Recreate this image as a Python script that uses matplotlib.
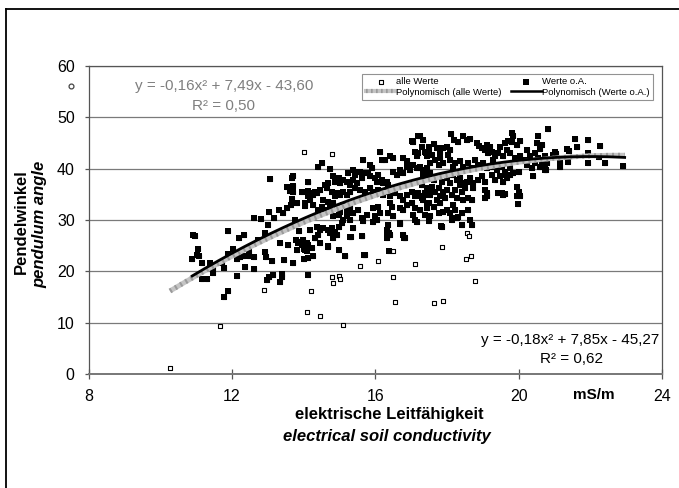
import numpy as np
import matplotlib
matplotlib.use("Agg")
import matplotlib.pyplot as plt
from matplotlib.lines import Line2D
from matplotlib.legend_handler import HandlerTuple

plt.rcParams['font.family'] = ['Liberation Sans', 'DejaVu Sans']

# ---------------- data ----------------
# filled squares: "Werte o.A." (values without outliers)
werte_oa = [
    (10.92,27.1),(10.97,26.8),(11.06,24.4),(10.89,22.4),(11.03,23.2),(11.09,22.9),(11.15,21.6),(11.39,21.6),
    (11.48,20.6),(11.46,19.6),(11.15,18.45),(11.31,18.5),(11.71,21.6),(11.78,20.6),(11.9,23.4),(11.9,27.9),
    (12.04,24.3),(12.15,22.5),(12.22,22.7),(12.3,23.0),(12.2,26.5),(12.34,27.1),(12.47,23.8),(12.48,22.9),
    (12.61,22.7),(12.36,20.8),(12.6,20.5),(12.15,19.0),(11.9,16.2),(11.79,15.0),(12.6,30.3),(12.8,30.1),
    (12.72,26.2),(12.92,27.4),(12.92,23.8),(12.95,22.7),(13.11,22.0),(13.0,29.0),(13.18,30.3),(13.03,31.6),
    (13.31,32.0),(13.41,31.4),(13.34,25.6),(13.45,22.3),(13.57,25.1),(13.71,21.6),(12.97,18.3),(13.04,18.8),
    (13.13,19.2),(13.39,19.5),(13.4,18.8),(13.34,18.0),(13.53,32.3),(13.65,33.0),(13.8,33.3),(13.66,34.0),
    (13.62,35.7),(13.71,35.5),(13.54,36.4),(13.71,36.6),(13.66,38.1),(13.71,38.5),(13.94,35.5),(14.12,35.7),
    (14.11,34.6),(14.13,37.4),(14.04,32.8),(13.76,30.0),(13.88,27.8),(13.79,26.1),(13.8,24.2),(14.01,24.4),
    (13.88,25.8),(14.02,22.4),(14.11,19.3),(13.06,37.9),(13.85,25.6),(13.94,25.15),(14.04,24.2),(14.13,22.55),
    (14.44,25.6),(14.69,24.9),(14.32,26.45),(14.69,28.1),
    (17.2,46.3),(17.01,45.3),(17.06,45.1),(17.1,43.3),(17.2,43.0),(17.15,42.5),(17.4,43.0),(17.5,43.5),
    (16.13,43.3),(16.41,42.4),(16.5,42.0),(16.18,41.7),(16.27,41.6),(16.78,42.0),(16.87,41.4),(15.66,41.7),
    (15.85,40.7),(15.9,40.1),(14.5,41.1),(14.41,40.4),(14.73,40.0),(15.38,39.8),(15.46,39.4),(15.24,39.1),
    (15.43,38.8),(15.57,39.4),(15.71,39.1),(15.62,38.1),(15.8,39.1),(15.85,38.5),(15.99,38.1),(16.08,38.8),
    (16.04,37.5),(16.18,37.8),(16.22,37.2),(16.31,37.5),(16.36,36.8),(16.5,39.4),(16.59,38.8),(16.69,39.8),
    (16.78,39.1),(16.87,40.4),(16.97,39.8),(17.06,40.7),(17.15,40.1),(17.24,40.4),(17.34,39.8),(17.43,40.1),
    (14.83,38.5),(14.97,38.1),(14.87,37.5),(15.01,37.2),(15.1,37.8),(15.2,37.5),(15.29,36.8),(15.38,37.8),
    (15.48,37.2),(14.6,36.8),(14.69,37.2),(14.64,36.2),(14.45,35.9),(14.36,35.2),(14.31,35.5),(14.27,34.9),
    (14.13,37.5),(14.08,35.5),(14.18,35.2),(14.78,35.5),(14.92,35.2),(15.01,34.9),(14.87,34.6),(15.1,35.5),
    (15.2,34.9),(15.29,35.5),(15.43,36.2),(15.57,35.9),(15.71,35.5),(15.85,36.2),(15.94,35.5),(16.08,35.9),
    (16.22,34.9),(16.31,35.5),(16.41,34.6),(16.55,35.2),(16.69,34.6),(16.78,33.9),(16.87,34.9),(17.01,35.5),
    (17.1,34.6),(17.2,35.2),(17.29,34.2),(17.38,34.9),(17.48,35.9),(14.18,33.9),(14.27,32.9),(14.04,33.3),
    (14.55,33.9),(14.69,33.6),(14.5,32.6),(14.41,32.0),(14.6,32.0),(14.73,32.6),(14.83,33.3),(14.92,32.3),
    (15.01,31.6),(15.1,32.9),(15.2,31.9),(15.29,32.6),(14.83,30.7),(14.97,31.0),(15.1,30.0),(15.06,29.4),
    (15.2,30.7),(15.29,30.0),(15.38,31.3),(15.52,32.0),(15.62,30.3),(15.76,31.0),(15.94,32.3),(16.08,32.6),
    (15.99,30.7),(16.13,31.3),(16.04,30.0),(16.41,33.3),(16.45,32.6),(16.36,31.3),(16.5,30.7),(16.69,32.3),
    (16.78,32.0),(16.87,32.9),(17.01,33.3),(17.1,32.3),(17.24,32.0),(17.38,31.0),(17.43,32.9),(14.36,28.7),
    (14.45,28.1),(14.41,27.1),(14.31,26.4),(14.55,28.4),(14.78,28.4),(14.87,27.7),(14.92,27.1),(14.83,26.4),
    (14.73,27.4),(14.97,28.7),(14.18,28.1),(14.08,25.5),(13.99,26.1),(15.38,28.4),(15.62,26.8),(15.29,26.6),
    (16.31,28.1),(16.36,29.0),(16.41,27.1),(16.33,26.4),(16.69,29.2),(16.78,27.1),(16.83,26.4),(17.06,31.0),
    (17.1,30.0),(17.15,29.7),(14.69,24.8),(14.97,24.2),(15.15,23.0),(15.71,23.2),(14.13,25.1),(14.22,24.5),
    (14.08,24.0),(14.25,22.9),(16.37,24.0),
    (15.31,26.6),(15.63,26.9),(16.31,26.9),(16.38,27.5),(16.78,27.1),(16.8,26.4),(15.15,23.06),(15.68,23.2),
    (17.85,28.7),(18.41,29.0),(18.69,29.0),(18.13,30.0),(18.27,30.3),(15.66,29.9),(15.94,29.7),(16.69,29.4),
    (18.1,46.7),(18.2,45.6),(18.29,45.1),(18.43,46.3),(18.55,45.6),(18.64,45.7),(17.99,44.3),(18.08,43.7),
    (18.03,42.7),(17.89,44.0),(17.8,43.3),(18.82,45.0),(18.9,44.4),(18.96,44.0),(19.1,44.6),(19.2,44.2),
    (19.06,43.7),(19.15,43.0),(19.24,43.3),(19.34,42.4),(19.29,41.7),(19.48,44.3),(19.62,45.0),(19.71,45.3),
    (19.8,45.1),(19.94,44.6),(20.03,45.3),(20.22,43.7),(19.8,47.0),(19.85,46.3),(19.43,43.0),(19.57,42.4),
    (19.66,43.7),(19.75,43.0),(19.89,42.0),(20.03,42.4),(20.13,41.7),(20.31,42.4),(20.45,43.0),(20.54,42.0),
    (20.54,46.4),(20.82,47.7),(20.5,45.0),(20.64,44.6),(20.59,43.8),(17.24,46.3),(17.34,45.6),(17.29,44.3),
    (17.38,43.3),(17.48,44.3),(17.62,44.9),(17.71,44.0),(17.43,42.4),(17.57,42.7),(17.66,41.7),(17.52,41.1),
    (17.8,42.0),(17.89,41.1),(17.76,40.7),(18.08,41.7),(18.22,41.1),(18.17,40.4),(18.36,41.4),(18.45,40.4),
    (18.59,41.1),(18.69,40.1),(18.78,41.7),(18.87,40.7),(19.01,41.1),(19.1,40.1),(19.24,40.4),(19.38,39.8),
    (19.52,40.4),(19.61,39.4),(19.75,40.1),(19.85,39.1),(19.99,39.4),(20.22,40.7),(20.36,40.1),(20.45,41.1),
    (20.59,40.4),(20.73,39.8),(20.78,41.1),(17.24,40.1),(17.38,39.4),(17.52,39.1),(17.34,38.5),(17.48,38.1),
    (17.62,37.8),(17.76,38.5),(17.85,37.5),(17.99,38.1),(18.08,37.2),(18.17,38.8),(18.27,37.8),(18.36,38.1),
    (18.45,37.2),(18.55,37.5),(18.64,38.1),(18.73,37.2),(18.87,37.8),(18.96,38.5),(19.06,37.5),(19.24,38.8),
    (19.34,37.8),(19.48,38.5),(19.62,38.8),(19.57,37.5),(19.66,38.1),(19.75,38.8),(20.4,38.5),(17.29,36.8),
    (17.43,36.2),(17.57,36.5),(17.38,35.2),(17.52,34.9),(17.66,35.5),(17.76,36.2),(17.89,35.5),(17.8,34.6),
    (17.94,34.2),(17.99,35.9),(18.13,34.9),(18.22,35.9),(18.36,36.8),(18.41,35.5),(18.5,36.2),(18.27,34.2),
    (18.45,33.9),(18.59,34.2),(18.69,33.9),(18.73,36.2),(19.06,35.9),(19.1,35.2),(19.06,34.2),(19.43,35.2),
    (19.57,34.9),(19.94,36.5),(19.99,35.5),(19.94,34.6),(20.03,34.7),(17.24,34.6),(17.34,33.9),(17.48,33.3),
    (17.43,32.3),(17.62,32.6),(17.71,33.9),(17.8,33.3),(17.99,32.0),(17.76,31.3),(17.89,31.6),(18.17,32.9),
    (18.22,32.0),(18.08,31.3),(18.13,30.3),(18.41,31.3),(18.59,32.0),(18.64,30.0),(17.52,30.7),(17.5,29.9),
    (17.82,28.9),(18.29,30.5),(19.97,33.1),(19.52,35.2),(19.61,35.1),(19.1,34.6),
    (21.01,43.3),(20.96,42.7),(21.04,42.9),(20.73,42.4),(20.64,41.1),(20.73,40.1),(20.76,39.8),(21.15,41.1),
    (21.15,40.4),(21.35,43.9),(21.41,43.5),(21.57,45.7),(21.63,44.3),(21.92,45.5),(21.94,43.0),(22.26,44.5),
    (22.24,42.2),(22.4,41.1),(21.94,41.2),(21.38,41.3),(22.91,40.6),
]
# hollow squares visible only in "alle Werte" (the outliers)
ausreisser = [
    (10.27,1.1),(11.66,9.4),(12.9,16.4),(14.2,16.2),(14.1,12.0),(14.45,11.3),(14.78,18.8),(14.81,17.8),
    (14.97,19.0),(15.02,18.6),(14.01,43.2),(14.8,42.8),(15.09,9.55),(15.57,21.1),(16.06,22.0),(17.1,21.4),
    (16.49,24.0),(16.48,18.97),(16.55,14.1),(17.63,13.76),(17.87,14.2),(17.85,24.7),(18.55,27.5),
    (18.62,26.95),(18.53,22.35),(18.66,23.06),(18.78,18.1),
]
# polynomial trend lines as drawn (coefficients a, b, c for a*x^2 + b*x + c)
trend_alle = [-0.1677, 7.656, -44.77]
trend_oa = [-0.189, 8.31, -48.98]
trend_alle_range = [10.27, 22.95]
trend_oa_range = [10.89, 22.95]
eq_alle = ["y = -0,16x² + 7,49x - 43,60", "R² = 0,50"]
eq_oa = ["y = -0,18x² + 7,85x - 45,27", "R² = 0,62"]
x_ticks = [8, 12, 16, 20, 24]
y_ticks = [0, 10, 20, 30, 40, 50, 60]

oa_x = [p[0] for p in werte_oa]
oa_y = [p[1] for p in werte_oa]
out_x = [p[0] for p in ausreisser]
out_y = [p[1] for p in ausreisser]
alle_x = out_x + oa_x
alle_y = out_y + oa_y

# ---------------- figure ----------------
W, H = 679, 488
fig = plt.figure(figsize=(W / 100, H / 100), dpi=100)
L, R, B, T = 88.6, 662.3, 374, 66
ax = fig.add_axes([L / W, 1 - B / H, (R - L) / W, (B - T) / H])

ax.set_xlim(8, 24)
ax.set_ylim(0, 60)
ax.set_xticks(x_ticks)
ax.set_yticks(y_ticks)
ax.yaxis.grid(True, color='#7a7a7a', lw=0.9)
ax.set_axisbelow(True)

for s in ['top', 'right', 'left']:
    ax.spines[s].set_color('#555555')
    ax.spines[s].set_linewidth(0.9)
ax.spines['bottom'].set_color('#777777')
ax.spines['bottom'].set_linewidth(1.4)

ax.tick_params(axis='x', direction='inout', length=7, width=0.9, color='#555555',
               labelsize=11.5, pad=7)
ax.tick_params(axis='y', direction='out', length=3, width=0.9, color='#555555',
               labelsize=11.5, pad=7)

h_alle = ax.scatter(alle_x, alle_y, marker='s', s=11, facecolors='white',
                    edgecolors='black', linewidths=0.8, zorder=3, label='alle Werte')
h_oa = ax.scatter(oa_x, oa_y, marker='s', s=14, color='black', linewidths=0,
                  zorder=4, label='Werte o.A.')

xa = np.linspace(trend_alle_range[0], trend_alle_range[1], 200)
ya = np.polyval(trend_alle, xa)
xo = np.linspace(trend_oa_range[0], trend_oa_range[1], 200)
yo = np.polyval(trend_oa, xo)
ax.plot(xa, ya, color='#c4c4c4', lw=3.6, zorder=5, solid_capstyle='butt')
ax.plot(xa, ya, color='#9a9a9a', lw=3.6, ls=(0, (0.4, 0.8)), zorder=5)
ax.plot(xo, yo, color='black', lw=2.0, zorder=6)

# legend
hl_alle = (Line2D([], [], color='#c4c4c4', lw=3.0),
           Line2D([], [], color='#9a9a9a', lw=3.0, ls=(0, (0.4, 0.8))))
hl_oa = Line2D([], [], color='black', lw=1.8)
leg = ax.legend([h_alle, hl_alle, h_oa, hl_oa],
                ['alle Werte', 'Polynomisch (alle Werte)', 'Werte o.A.', 'Polynomisch (Werte o.A.)'],
                handler_map={tuple: HandlerTuple(ndivide=1)},
                ncol=2, loc='upper right', bbox_to_anchor=((653 - L) / (R - L), (B - 74) / (B - T)),
                fontsize=6.8, frameon=True, fancybox=False, borderpad=0.35, labelspacing=0.15,
                handlelength=3.2, handletextpad=0.05, columnspacing=1.0, borderaxespad=0,
                markerscale=1.0)
leg.get_frame().set_edgecolor('#777777')
leg.get_frame().set_linewidth(0.8)
leg.set_zorder(10)

# equations
gx = 224
fig.text(gx / W, 1 - 86 / H, eq_alle[0], color='#7f7f7f', fontsize=11, ha='center', va='center')
fig.text(gx / W, 1 - 106 / H, eq_alle[1], color='#7f7f7f', fontsize=11, ha='center', va='center')
fig.text(659 / W, 1 - 340 / H, eq_oa[0], color='black', fontsize=11, ha='right', va='center')
fig.text(572 / W, 1 - 359 / H, eq_oa[1], color='black', fontsize=11, ha='center', va='center')

# axis titles
fig.text(21 / W, 1 - 222 / H, 'Pendelwinkel', rotation=90, fontsize=12, fontweight='bold',
         ha='center', va='center')
fig.text(40 / W, 1 - 224 / H, 'pendulum angle', rotation=90, fontsize=12, fontweight='bold',
         style='italic', ha='center', va='center')
fig.text(389 / W, 1 - 414 / H, 'elektrische Leitfähigkeit', fontsize=12, fontweight='bold',
         ha='center', va='center')
fig.text(387 / W, 1 - 437 / H, 'electrical soil conductivity', fontsize=12, fontweight='bold',
         style='italic', ha='center', va='center')
fig.text(594 / W, 1 - 395 / H, 'mS/m', fontsize=11, fontweight='bold', ha='center', va='center')

# small circle left of the axis and the page frame
fig.add_artist(Line2D([71 / W], [1 - 86 / H], marker='o', ms=3.5, mfc='white', mec='#444444', mew=0.9,
                      transform=fig.transFigure))
fig.add_artist(Line2D([6 / W, 6 / W], [0, 1 - 9 / H], color='black', lw=1.3, transform=fig.transFigure))
fig.add_artist(Line2D([6 / W, 1], [1 - 9 / H, 1 - 9 / H], color='black', lw=1.3, transform=fig.transFigure))

fig.savefig('out.png', dpi=100)
